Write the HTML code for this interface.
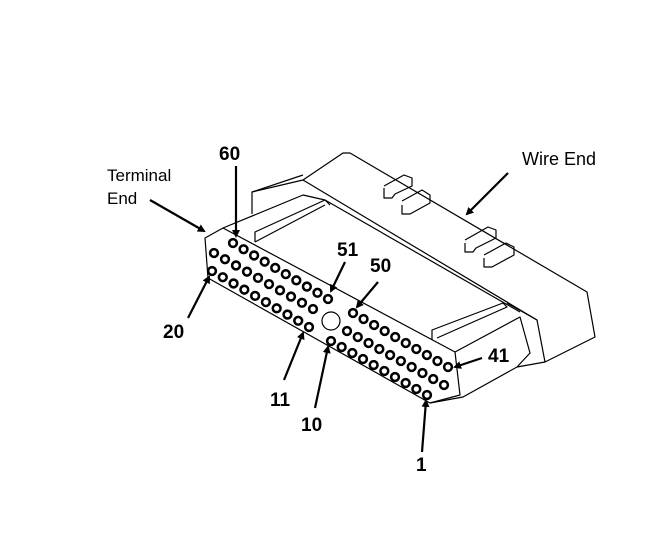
<!DOCTYPE html>
<html><head><style>body{margin:0;background:#fff}svg{display:block}text{font-family:"Liberation Sans",sans-serif;fill:#000}</style></head><body>
<svg width="647" height="547" viewBox="0 0 647 547" xmlns="http://www.w3.org/2000/svg">
<defs><marker id="a" markerWidth="8" markerHeight="8" refX="6" refY="4" orient="auto" markerUnits="userSpaceOnUse"><path d="M0,0 L8,4 L0,8 Z" fill="#000"/></marker></defs>
<g fill="none" stroke="#000" stroke-width="1.2" stroke-linejoin="round">
<path d="M252,214 L252,192 L303,180 L343,153 L350,153 L587,292 L595,337 L545,362 L517,367"/>
<path d="M303,180 L537,320 L545,362"/>
<path d="M507,303 L537,320"/>
<path d="M252,192 L303,175"/>
<path d="M223,228 L303,195 L325,200 L520,312"/>
<path d="M255,242 L255,232 L325,200 L330,205"/>
<path d="M255,242 L325,205"/>
<path d="M432,340 L432,330 L503,303 L507,307 L437,338"/>
<path d="M205,238 L223,228 L455,352 L460,395 L430,403 L208,278 Z"/>
<path d="M455,352 L520,317 L530,353 L517,367 L463,397 L430,403"/>
<path d="M384,188 L384,198 L392,198 L395,194 L412,186 L412,178 L404,175 L384,186"/>
<path d="M402,205 L402,214 L410,214 L430,203 L430,195 L422,190 L402,201"/>
<path d="M465,243 L465,252 L473,252 L476,248 L496,238 L496,230 L488,227 L465,240"/>
<path d="M484,258 L484,267 L492,267 L514,255 L514,247 L506,243 L484,255"/>
<circle cx="331" cy="321" r="9"/>
</g>
<g stroke="#000" stroke-width="1.1"><g id="pins"></g></g>
<g stroke="#000" stroke-width="2.2" marker-end="url(#a)">
<line x1="150" y1="200" x2="204" y2="231"/>
<line x1="236" y1="166" x2="236" y2="236"/>
<line x1="508" y1="173" x2="467" y2="214"/>
<line x1="345" y1="262" x2="331" y2="291"/>
<line x1="378" y1="282" x2="357" y2="307"/>
<line x1="188" y1="318" x2="209" y2="277"/>
<line x1="482" y1="358" x2="455" y2="367"/>
<line x1="284" y1="380" x2="303" y2="333"/>
<line x1="315" y1="408" x2="328" y2="347"/>
<line x1="422" y1="452" x2="426" y2="401"/>
</g>
<text x="107" y="181" font-size="17">Terminal</text>
<text x="107" y="204" font-size="17">End</text>
<text x="522" y="165" font-size="18">Wire End</text>
<g font-size="19" font-weight="bold">
<text x="219" y="160">60</text>
<text x="337" y="256">51</text>
<text x="370" y="272">50</text>
<text x="163" y="338">20</text>
<text x="488" y="362">41</text>
<text x="270" y="406">11</text>
<text x="301" y="431">10</text>
<text x="416" y="471">1</text>
</g>
<script>
var g=document.getElementById('pins'),ns='http://www.w3.org/2000/svg';
var rows=[[233,243,328,299],[214,253,313,309],[212,271,309,327],[353,313,448,367],[347,331,444,385],[331,341,427,395]];
rows.forEach(function(r){for(var i=0;i<10;i++){var x=r[0]+(r[2]-r[0])*i/9,y=r[1]+(r[3]-r[1])*i/9;
var c=document.createElementNS(ns,'circle');c.setAttribute('cx',x);c.setAttribute('cy',y);c.setAttribute('r',4.6);c.setAttribute('fill','#000');g.appendChild(c);
var d=document.createElementNS(ns,'circle');d.setAttribute('cx',x);d.setAttribute('cy',y);d.setAttribute('r',2.6);d.setAttribute('fill','#fff');d.setAttribute('stroke','none');g.appendChild(d);}});
</script>
</svg>
</body></html>
